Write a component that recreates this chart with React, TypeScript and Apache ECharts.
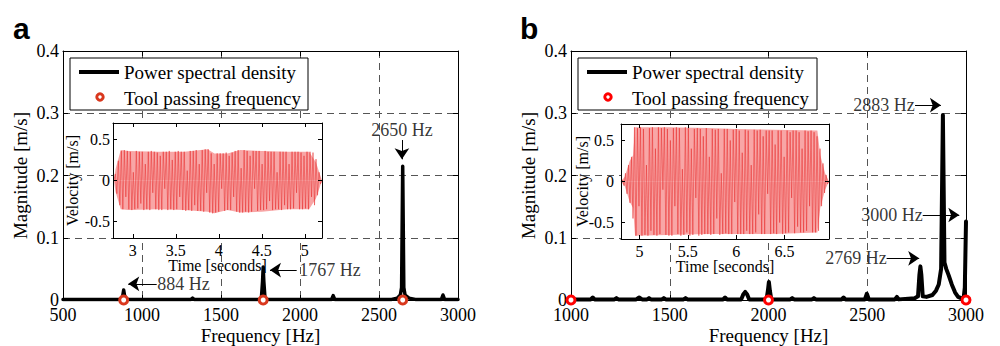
import React, { useEffect, useRef } from "react";
import * as echarts from "echarts";

// ---------------- data ----------------
// Panel a: spectrum (Hz, m/s)
const freqA = [500, 870, 879, 884, 889, 898, 1310, 1320, 1330, 1755, 1763, 1767, 1771, 1779, 2200, 2210, 2220, 2580, 2615, 2635, 2643, 2650, 2657, 2665, 2690, 2730, 2895, 2905, 2915, 3000];
const magA = [0.001, 0.001, 0.008, 0.016, 0.008, 0.001, 0.001, 0.003, 0.001, 0.001, 0.03, 0.053, 0.03, 0.001, 0.001, 0.007, 0.001, 0.001, 0.003, 0.008, 0.02, 0.215, 0.02, 0.008, 0.003, 0.001, 0.001, 0.008, 0.001, 0.001];
const toolFreqA = [884, 1767, 2650];

// Panel b: spectrum
const freqB = [1000, 1100, 1110, 1120, 1220, 1230, 1240, 1330, 1345, 1360, 1385, 1395, 1405, 1460, 1470, 1480, 1570, 1580, 1590, 1770, 1780, 1790, 1862, 1872, 1882, 1892, 1902, 1990, 1997, 2002, 2007, 2014, 2110, 2120, 2130, 2220, 2230, 2240, 2370, 2380, 2390, 2488, 2498, 2508, 2640, 2650, 2660, 2740, 2757, 2764, 2769, 2774, 2781, 2800, 2830, 2848, 2862, 2874, 2883, 2891, 2900, 2912, 2928, 2945, 2960, 2975, 2988, 2994, 3000];
const magB = [0.001, 0.001, 0.004, 0.001, 0.001, 0.003, 0.001, 0.001, 0.004, 0.001, 0.001, 0.003, 0.001, 0.001, 0.003, 0.001, 0.001, 0.003, 0.001, 0.001, 0.004, 0.001, 0.001, 0.009, 0.013, 0.009, 0.001, 0.001, 0.015, 0.029, 0.015, 0.001, 0.001, 0.003, 0.001, 0.001, 0.003, 0.001, 0.001, 0.004, 0.001, 0.001, 0.01, 0.001, 0.001, 0.005, 0.001, 0.003, 0.006, 0.04, 0.054, 0.04, 0.006, 0.005, 0.008, 0.015, 0.025, 0.05, 0.297, 0.06, 0.05, 0.04, 0.025, 0.012, 0.005, 0.003, 0.003, 0.02, 0.126];
const toolFreqB = [1000, 2000, 3000];

// annotations: label centre and arrow (from -> tip), in data units
const annTextA = ["2650 Hz", "1767 Hz", "884 Hz"];
const annPosA = [[2645, 0.273], [2190, 0.048], [1263, 0.025]];
const annFromA = [[2645, 0.257], [1979, 0.048], [1093, 0.026]];
const annTipA = [[2645, 0.226], [1810, 0.048], [913, 0.026]];

const annTextB = ["2883 Hz", "3000 Hz", "2769 Hz"];
const annPosB = [[2585, 0.313], [2625, 0.1365], [2443, 0.067]];
const annFromB = [[2742, 0.313], [2781, 0.1365], [2598, 0.067]];
const annTipB = [[2873, 0.313], [2966, 0.1365], [2763, 0.067]];

// Insets: velocity time histories
const insetTimeTicksA = [3, 3.5, 4, 4.5, 5];
const insetTimeTicksB = [5, 5.5, 6, 6.5];
const velocityTicks = [-0.5, 0, 0.5];

const envTimeA = [2.78, 2.8, 2.86, 2.95, 3.3, 3.6, 3.87, 3.95, 4.1, 4.25, 4.5, 4.8, 5.05, 5.13, 5.2];
const envUpA = [0, 0.14, 0.37, 0.36, 0.35, 0.35, 0.38, 0.33, 0.33, 0.37, 0.36, 0.35, 0.35, 0.22, 0];
const envLoA = [0, -0.14, -0.35, -0.36, -0.35, -0.36, -0.38, -0.4, -0.36, -0.39, -0.38, -0.35, -0.35, -0.22, 0];

const velStartA = 2.78;
const velStepA = 0.01741;
const velA = [
  0, 0.08, -0.16, 0.24, -0.3, 0.36, -0.35, 0.37, -0.2, 0.36,
  -0.35, 0.35, -0.36, 0.1, -0.35, 0.36, -0.34, 0.35, -0.28, 0.35,
  -0.36, 0.2, -0.35, 0.35, -0.36, 0.36, -0.15, 0.35, -0.35, 0.34,
  -0.36, 0.3, -0.36, 0.35, -0.1, 0.35, -0.36, 0.36, -0.35, 0.25,
  -0.36, 0.35, -0.35, 0.36, -0.2, 0.35, -0.36, 0.35, -0.37, 0.12,
  -0.36, 0.36, -0.37, 0.36, -0.3, 0.37, -0.37, 0.2, -0.37, 0.37,
  -0.38, 0.38, -0.15, 0.38, -0.39, 0.33, -0.4, 0.2, -0.39, 0.33,
  -0.38, 0.33, -0.1, 0.33, -0.37, 0.34, -0.36, 0.3, -0.36, 0.34,
  -0.2, 0.36, -0.38, 0.37, -0.39, 0.15, -0.39, 0.37, -0.38, 0.36,
  -0.39, 0.3, -0.38, 0.36, -0.1, 0.36, -0.37, 0.36, -0.36, 0.2,
  -0.36, 0.36, -0.35, 0.35, -0.25, 0.35, -0.36, 0.35, -0.35, 0.1,
  -0.35, 0.35, -0.36, 0.35, -0.3, 0.35, -0.35, 0.2, -0.35, 0.35,
  -0.34, 0.35, -0.15, 0.35, -0.35, 0.34, -0.35, 0.3, -0.34, 0.35,
  -0.35, 0.35, -0.2, 0.34, -0.3, 0.26, -0.18, 0.1, -0.04, 0,
];

const envTimeB = [4.81, 4.85, 4.9, 4.935, 4.955, 5.3, 5.7, 6.0, 6.4, 6.84, 6.87, 6.92, 6.96];
const envUpB = [0, 0.06, 0.25, 0.32, 0.66, 0.66, 0.65, 0.64, 0.63, 0.62, 0.32, 0.1, 0];
const envLoB = [0, -0.06, -0.25, -0.32, -0.66, -0.65, -0.64, -0.64, -0.64, -0.62, -0.32, -0.1, 0];

const velStartB = 4.81;
const velStepB = 0.01547;
const velB = [
  0, 0.02, -0.05, 0.1, -0.15, 0.2, -0.26, 0.3, -0.45, 0.66,
  -0.66, 0.65, -0.3, 0.66, -0.66, 0.64, -0.65, 0.2, -0.66, 0.65,
  -0.6, 0.66, -0.65, 0.4, -0.66, 0.66, -0.64, 0.65, -0.1, 0.66,
  -0.65, 0.64, -0.66, 0.5, -0.66, 0.65, -0.3, 0.66, -0.64, 0.65,
  -0.66, 0.15, -0.65, 0.66, -0.62, 0.65, -0.66, 0.4, -0.65, 0.64,
  -0.2, 0.65, -0.66, 0.64, -0.65, 0.55, -0.64, 0.65, -0.64, 0.3,
  -0.65, 0.64, -0.64, 0.63, -0.45, 0.64, -0.65, 0.1, -0.64, 0.64,
  -0.63, 0.64, -0.64, 0.5, -0.64, 0.63, -0.25, 0.64, -0.64, 0.62,
  -0.64, 0.35, -0.64, 0.63, -0.6, 0.62, -0.64, 0.2, -0.64, 0.63,
  -0.62, 0.62, -0.4, 0.63, -0.64, 0.55, -0.64, 0.62, -0.15, 0.62,
  -0.64, 0.62, -0.63, 0.45, -0.64, 0.62, -0.5, 0.62, -0.64, 0.3,
  -0.63, 0.62, -0.62, 0.6, -0.2, 0.62, -0.63, 0.62, -0.55, 0.6,
  -0.62, 0.4, -0.62, 0.62, -0.6, 0.61, -0.3, 0.62, -0.62, 0.6,
  -0.62, 0.55, -0.6, 0.4, -0.3, 0.22, -0.14, 0.08, -0.03, 0,
];

// ---------------- styling helpers ----------------
const FONT = "Liberation Serif";
const SANS = "Liberation Sans";
const DASH = { color: "#555", width: 1, type: [7, 5] as any };
const LINE = { show: true, onZero: false, lineStyle: { color: "#000", width: 1 } };
const fmt = (v: number) => String(v);

function mainXAxes(gridIndex: number, min: number, max: number) {
  return [
    {
      type: "value", gridIndex, position: "bottom", min, max, interval: 500, z: 0,
      axisLine: LINE,
      axisTick: { show: true, inside: true, length: 5, lineStyle: { color: "#000" } },
      axisLabel: { color: "#000", fontFamily: FONT, fontSize: 18, margin: 6, formatter: fmt },
      splitLine: { show: true, lineStyle: DASH },
      name: "Frequency [Hz]", nameLocation: "middle", nameGap: 26, nameMoveOverlap: false,
      nameTextStyle: { color: "#000", fontFamily: FONT, fontSize: 19 },
    },
    {
      type: "value", gridIndex, position: "top", min, max, interval: 500, z: 0,
      axisLine: LINE,
      axisTick: { show: true, inside: true, length: 5, lineStyle: { color: "#000" } },
      axisLabel: { show: false },
      splitLine: { show: false },
    },
  ];
}

function mainYAxes(gridIndex: number) {
  return [
    {
      type: "value", gridIndex, position: "left", min: 0, max: 0.4, interval: 0.1, z: 0,
      axisLine: LINE,
      axisTick: { show: true, inside: true, length: 5, lineStyle: { color: "#000" } },
      axisLabel: { color: "#000", fontFamily: FONT, fontSize: 18, margin: 4, formatter: fmt },
      splitLine: { show: true, lineStyle: DASH },
      name: "Magnitude [m/s]", nameLocation: "middle", nameGap: 33, nameMoveOverlap: false,
      nameTextStyle: { color: "#000", fontFamily: FONT, fontSize: 19 },
    },
    {
      type: "value", gridIndex, position: "right", min: 0, max: 0.4, interval: 0.1, z: 0,
      axisLine: LINE,
      axisTick: { show: true, inside: true, length: 5, lineStyle: { color: "#000" } },
      axisLabel: { show: false },
      splitLine: { show: false },
    },
  ];
}

function insetXAxes(gridIndex: number, min: number, max: number, ticks: number[]) {
  return [
    {
      type: "value", gridIndex, position: "bottom", min, max, z: 6,
      axisLine: LINE,
      axisTick: { show: true, inside: true, length: 4, customValues: ticks, lineStyle: { color: "#000" } },
      axisLabel: { color: "#000", fontFamily: FONT, fontSize: 16, margin: 4, customValues: ticks, formatter: fmt },
      splitLine: { show: false },
      name: "Time [seconds]", nameLocation: "middle", nameGap: 19, nameMoveOverlap: false,
      nameTextStyle: { color: "#000", fontFamily: FONT, fontSize: 16 },
    },
    {
      type: "value", gridIndex, position: "top", min, max, z: 6,
      axisLine: LINE,
      axisTick: { show: true, inside: true, length: 4, customValues: ticks, lineStyle: { color: "#000" } },
      axisLabel: { show: false },
      splitLine: { show: false },
    },
  ];
}

function insetYAxes(gridIndex: number, margin: number, nameGap: number) {
  return [
    {
      type: "value", gridIndex, position: "left", min: -0.7, max: 0.7, z: 6,
      axisLine: LINE,
      axisTick: { show: true, inside: true, length: 4, customValues: velocityTicks, lineStyle: { color: "#000" } },
      axisLabel: { color: "#000", fontFamily: FONT, fontSize: 16, margin, customValues: velocityTicks, formatter: fmt },
      splitLine: { show: false },
      name: "Velocity [m/s]", nameLocation: "middle", nameGap, nameMoveOverlap: false,
      nameTextStyle: { color: "#000", fontFamily: FONT, fontSize: 16 },
    },
    {
      type: "value", gridIndex, position: "right", min: -0.7, max: 0.7, z: 6,
      axisLine: LINE,
      axisTick: { show: true, inside: true, length: 4, customValues: velocityTicks, lineStyle: { color: "#000" } },
      axisLabel: { show: false },
      splitLine: { show: false },
    },
  ];
}

function spectrumSeries(axis: number, freq: number[], mag: number[], width: number) {
  return {
    type: "line", xAxisIndex: axis, yAxisIndex: axis, z: 2, silent: true,
    data: freq.map((f, i) => [f, mag[i]]),
    showSymbol: false, symbol: "none",
    lineStyle: { color: "#000", width, join: "round", cap: "round" },
  };
}

function toolSeries(axis: number, freq: number[], color: string) {
  return {
    type: "scatter", xAxisIndex: axis, yAxisIndex: axis, z: 6, clip: false, silent: true,
    data: freq.map((f) => [f, 0]),
    symbol: "circle", symbolSize: 8,
    itemStyle: { color: "#fff", borderColor: color, borderWidth: 3, opacity: 1 },
  };
}

function annotationSeries(axis: number, text: string[], pos: number[][], from: number[][], tip: number[][]) {
  return {
    type: "scatter", xAxisIndex: axis, yAxisIndex: axis, z: 4, silent: true, clip: false,
    data: text.map((t, i) => ({ name: t, value: pos[i] })),
    symbolSize: 1,
    itemStyle: { color: "rgba(0,0,0,0)" },
    label: {
      show: true, position: "inside", formatter: "{b}", color: "#000",
      fontFamily: FONT, fontSize: 18, align: "center", verticalAlign: "middle",
    },
    markLine: {
      silent: true, animation: false,
      symbol: ["none", "arrow"], symbolSize: 11,
      lineStyle: { color: "#000", width: 1, type: "solid" },
      label: { show: false },
      data: from.map((f, i) => [{ coord: f }, { coord: tip[i] }]),
    },
  };
}

function insetSeries(axis: number, envT: number[], up: number[], lo: number[], start: number, step: number, vel: number[]) {
  const band = (vals: number[]) => ({
    type: "line", xAxisIndex: axis, yAxisIndex: axis, z: 4, silent: true,
    data: envT.map((t, i) => [t, vals[i]]),
    showSymbol: false, symbol: "none",
    lineStyle: { width: 0 },
    areaStyle: { color: "#f8a6a6", opacity: 1 },
  });
  return [
    band(up),
    band(lo),
    {
      type: "line", xAxisIndex: axis, yAxisIndex: axis, z: 5, silent: true,
      data: vel.map((v, i) => [start + i * step, v]),
      showSymbol: false, symbol: "none",
      lineStyle: { color: "#e82a2a", width: 0.6, opacity: 0.85 },
    },
  ];
}

function legendGraphics(left: number, top: number, width: number, markerColor: string) {
  return [
    { type: "rect", z: 20, shape: { x: left, y: top, width, height: 52 }, style: { fill: "#fff", stroke: "#000", lineWidth: 1 } },
    { type: "line", z: 21, shape: { x1: left + 9, y1: top + 14, x2: left + 49, y2: top + 14 }, style: { stroke: "#000", lineWidth: 4 } },
    { type: "circle", z: 21, shape: { cx: left + 30, cy: top + 39, r: 3.2 }, style: { fill: "#fff", stroke: markerColor, lineWidth: 3 } },
    { type: "text", z: 21, x: left + 54, y: top + 14, style: { text: "Power spectral density", fontFamily: FONT, fontSize: 19, fill: "#000", verticalAlign: "middle" } },
    { type: "text", z: 21, x: left + 54, y: top + 40, style: { text: "Tool passing frequency", fontFamily: FONT, fontSize: 19, fill: "#000", verticalAlign: "middle" } },
  ];
}

const COLOR_A = "#d9381e";
const COLOR_B = "#ff0000";

export default function App() {
  const ref = useRef<HTMLDivElement>(null);
  useEffect(() => {
    if (!ref.current) return;
    const chart = echarts.init(ref.current, undefined, { renderer: "svg" });
    const gridBase = { outerBoundsMode: "none", containLabel: false };
    const option: any = {
      animation: false,
      backgroundColor: "#fff",
      grid: [
        { ...gridBase, left: 63, top: 51, width: 395, height: 249, show: false },
        { ...gridBase, left: 571, top: 51, width: 395, height: 249, show: false },
        { ...gridBase, left: 113, top: 123, width: 209, height: 115, show: true, backgroundColor: "#fff", borderWidth: 0, z: 1 },
        { ...gridBase, left: 621, top: 124, width: 208, height: 115, show: true, backgroundColor: "#fff", borderWidth: 0, z: 1 },
      ],
      xAxis: [
        ...mainXAxes(0, 500, 3000),
        ...mainXAxes(1, 1000, 3000),
        ...insetXAxes(2, 2.77, 5.2, insetTimeTicksA),
        ...insetXAxes(3, 4.81, 6.96, insetTimeTicksB),
      ],
      yAxis: [
        ...mainYAxes(0),
        ...mainYAxes(1),
        ...insetYAxes(2, 3, 33),
        ...insetYAxes(3, 7, 31),
      ],
      series: [
        spectrumSeries(0, freqA, magA, 3.5),
        toolSeries(0, toolFreqA, COLOR_A),
        annotationSeries(0, annTextA, annPosA, annFromA, annTipA),
        spectrumSeries(2, freqB, magB, 4),
        toolSeries(2, toolFreqB, COLOR_B),
        annotationSeries(2, annTextB, annPosB, annFromB, annTipB),
        ...insetSeries(4, envTimeA, envUpA, envLoA, velStartA, velStepA, velA),
        ...insetSeries(6, envTimeB, envUpB, envLoB, velStartB, velStepB, velB),
      ],
      graphic: [
        ...legendGraphics(70, 58, 238, COLOR_A),
        ...legendGraphics(578, 58, 239, COLOR_B),
        { type: "text", z: 21, x: 13, y: 28, style: { text: "a", fontFamily: SANS, fontWeight: "bold", fontSize: 30, fill: "#000", verticalAlign: "middle" } },
        { type: "text", z: 21, x: 520, y: 28, style: { text: "b", fontFamily: SANS, fontWeight: "bold", fontSize: 30, fill: "#000", verticalAlign: "middle" } },
      ],
    };
    chart.setOption(option);
    return () => chart.dispose();
  }, []);
  return <div ref={ref} style={{ position: "absolute", left: 0, top: 0, width: 1000, height: 346 }} />;
}
